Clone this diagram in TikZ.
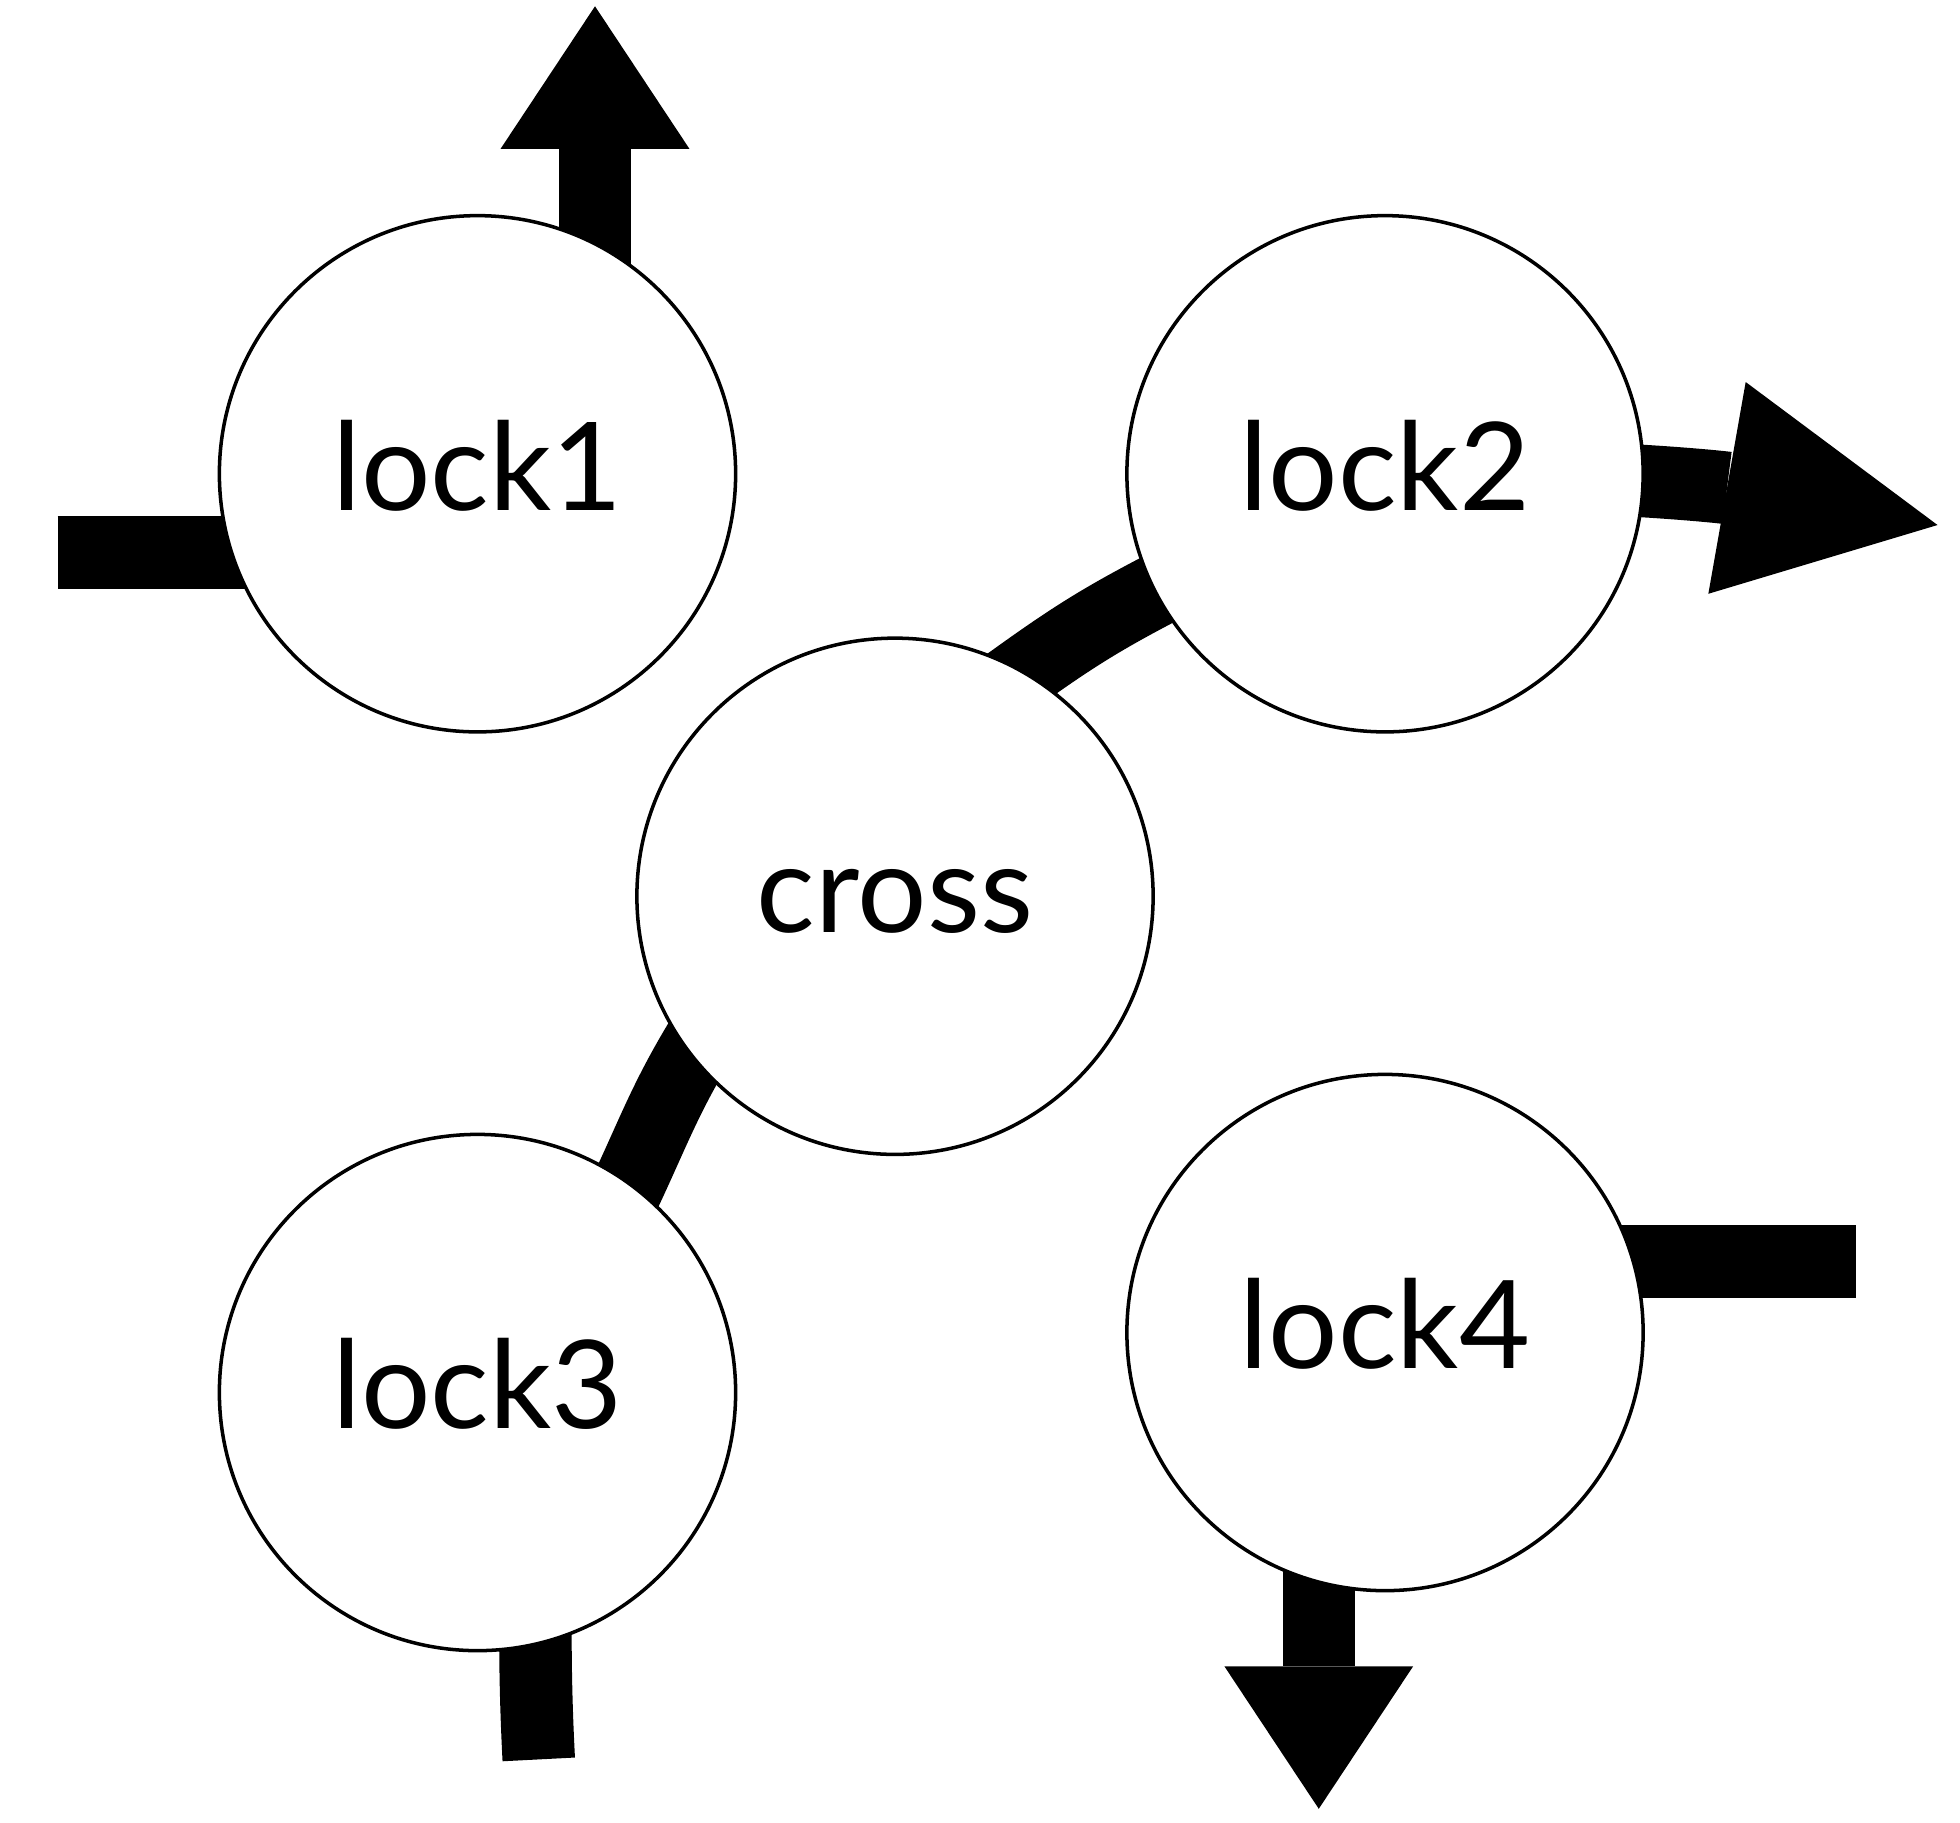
\documentclass[tikz,border=0pt]{standalone}
\usepackage{fontspec}
\newfontfamily\lockfont{Lato}
\usetikzlibrary{arrows.meta, backgrounds}

\begin{document}
\begin{tikzpicture}[junction/.style = {circle, draw, line width = 0.8pt, fill = white, minimum size = 4.13cm, inner sep = 0pt,
                                       font = \lockfont\fontsize{27.9}{33}\selectfont, text height = 0.58cm, text depth = 0pt},
                    pipe/.style = {line width = 0.58cm},
                    outsmall/.style = {-{Triangle[width = 1.51cm, length = 1.14cm, line width = 0pt]}},
                    outbig/.style = {-{Triangle[width = 1.72cm, length = 1.71cm, line width = 0pt]}}]
  \useasboundingbox (0,0) rectangle (15.68,-14.576);
  \node[junction] (lock1) at (3.82,-3.79)   {lock1};
  \node[junction] (lock2) at (11.08,-3.79)  {lock2};
  \node[junction] (cross) at (7.16,-7.17)   {cross};
  \node[junction] (lock3) at (3.82,-11.14)  {lock3};
  \node[junction] (lock4) at (11.08,-10.66) {lock4};
  % free ends
  \coordinate (w1) at (0.46,-4.42);
  \coordinate (n1) at (4.76,-0.05);
  \coordinate (e2) at (15.50,-4.20);
  \coordinate (s3) at (4.31,-14.075);
  \coordinate (e4) at (14.85,-10.09);
  \coordinate (s4) at (10.55,-14.47);
  \begin{pgfonlayer}{background}
    \draw[pipe] (w1) -- (w1 -| lock1.center);
    \draw[pipe, outsmall] (n1 |- lock1.center) -- (n1);
    \draw[pipe, outbig] (lock2.center) to[out=0, in=170] (e2);
    \draw[pipe, shorten <=-0.3cm, shorten >=-0.3cm] (cross.60) to[out=36, in=207] (lock2.207);
    \draw[pipe, shorten <=-0.3cm, shorten >=-0.3cm] (cross.218) to[out=238, in=64] (lock3.54);
    \draw[pipe] (s3 |- lock3.center) to[out=-90, in=93] (s3);
    \draw[pipe] (e4 -| lock4.center) -- (e4);
    \draw[pipe, outsmall] (s4 |- lock4.center) -- (s4);
  \end{pgfonlayer}
\end{tikzpicture}
\end{document}
